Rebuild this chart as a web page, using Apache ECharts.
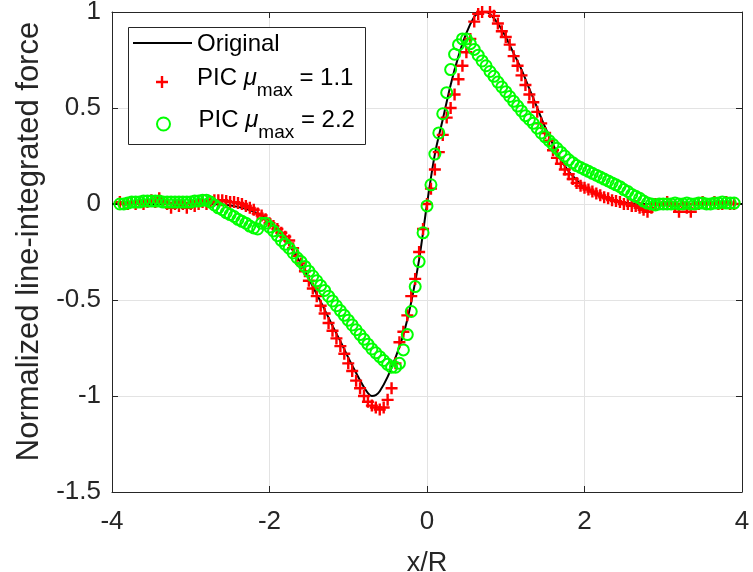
<!DOCTYPE html>
<html><head><meta charset="utf-8">
<script src="https://cdn.jsdelivr.net/npm/echarts@6/dist/echarts.min.js"></script>
<style>html,body{margin:0;padding:0;background:#fff}#c{width:753px;height:572px}</style>
</head><body><div id="c"></div>
<script>
// ---- data ----
const xTicks = [-4, -2, 0, 2, 4];
const yTicks = [-1.5, -1, -0.5, 0, 0.5, 1];

const xOrig = [-4,-3.5,-3,-2.8,-2.6,-2.4,-2.2,-2,-1.9,-1.8,-1.7,-1.6,-1.5,-1.4,-1.3,-1.2,-1.1,-1,
  -0.9,-0.8,-0.75,-0.7,-0.65,-0.6,-0.5,-0.4,-0.3,-0.2,-0.1,0,
  0.1,0.2,0.3,0.4,0.5,0.6,0.65,0.7,0.75,0.8,0.9,1,1.1,1.2,1.3,1.4,1.5,1.6,1.7,1.8,1.9,
  2,2.2,2.4,2.6,2.8,3,3.5,4];
const yOrig = [0,0,0,0,-0.003,-0.015,-0.04,-0.085,-0.13,-0.18,-0.245,-0.31,-0.39,-0.47,-0.55,-0.635,-0.715,-0.80,
  -0.88,-0.955,-0.985,-1.0,-0.995,-0.975,-0.90,-0.80,-0.68,-0.51,-0.29,0.0,
  0.26,0.44,0.62,0.77,0.89,0.975,0.993,1.0,1.0,0.99,0.94,0.87,0.785,0.70,0.60,0.50,0.40,0.31,0.23,0.17,0.125,
  0.085,0.04,0.015,0.003,0,0,0,0];

const xPIC = [-3.9,-3.85,-3.8,-3.75,-3.7,-3.65,-3.6,-3.55,-3.5,-3.45,
  -3.4,-3.35,-3.3,-3.25,-3.2,-3.15,-3.1,-3.05,-3,-2.95,
  -2.9,-2.85,-2.8,-2.75,-2.7,-2.65,-2.6,-2.55,-2.5,-2.45,
  -2.4,-2.35,-2.3,-2.25,-2.2,-2.15,-2.1,-2.05,-2,-1.95,
  -1.9,-1.85,-1.8,-1.75,-1.7,-1.65,-1.6,-1.55,-1.5,-1.45,
  -1.4,-1.35,-1.3,-1.25,-1.2,-1.15,-1.1,-1.05,-1,-0.95,
  -0.9,-0.85,-0.8,-0.75,-0.7,-0.65,-0.6,-0.55,-0.5,-0.45,
  -0.4,-0.35,-0.3,-0.25,-0.2,-0.15,-0.1,-0.05,0,0.05,
  0.1,0.15,0.2,0.25,0.3,0.35,0.4,0.45,0.5,0.55,
  0.6,0.65,0.7,0.75,0.8,0.85,0.9,0.95,1,1.05,
  1.1,1.15,1.2,1.25,1.3,1.35,1.4,1.45,1.5,1.55,
  1.6,1.65,1.7,1.75,1.8,1.85,1.9,1.95,2,2.05,
  2.1,2.15,2.2,2.25,2.3,2.35,2.4,2.45,2.5,2.55,
  2.6,2.65,2.7,2.75,2.8,2.85,2.9,2.95,3,3.05,
  3.1,3.15,3.2,3.25,3.3,3.35,3.4,3.45,3.5,3.55,
  3.6,3.65,3.7,3.75,3.8,3.85,3.9];

const yPIC11 = [0.01,0.00,0.00,0.01,0.00,0.01,0.00,0.01,0.02,0.01,
  0.03,0.01,0.00,-0.02,0.00,-0.01,0.00,-0.02,0.00,-0.01,
  0.00,0.01,0.00,0.01,0.02,0.02,0.02,0.015,0.01,0.01,
  0.005,0.00,-0.01,-0.02,-0.03,-0.05,-0.06,-0.08,-0.10,-0.115,
  -0.13,-0.15,-0.17,-0.19,-0.23,-0.27,-0.31,-0.35,-0.40,-0.44,
  -0.48,-0.53,-0.57,-0.62,-0.66,-0.70,-0.74,-0.78,-0.83,-0.87,
  -0.92,-0.96,-1.00,-1.03,-1.05,-1.06,-1.07,-1.06,-1.02,-0.96,
  -0.83,-0.72,-0.665,-0.58,-0.48,-0.39,-0.25,-0.13,0.00,0.08,
  0.18,0.27,0.36,0.45,0.50,0.57,0.65,0.72,0.79,0.86,
  0.95,0.99,1.00,1.01,1.00,0.98,0.94,0.90,0.87,0.83,
  0.77,0.72,0.67,0.62,0.57,0.53,0.48,0.42,0.37,0.33,
  0.28,0.24,0.21,0.18,0.155,0.13,0.11,0.095,0.085,0.075,
  0.065,0.055,0.045,0.035,0.03,0.02,0.015,0.01,0.00,0.00,
  -0.01,-0.01,-0.02,-0.03,-0.04,-0.02,0.00,0.00,0.00,0.01,
  0.00,-0.01,-0.04,0.00,-0.02,-0.04,0.00,0.00,0.01,0.00,
  0.00,0.01,0.00,0.00,0.01,0.00,0.00];

const yPIC22 = [0.00,0.00,0.005,0.01,0.01,0.01,0.015,0.015,0.015,0.015,
  0.015,0.01,0.01,0.01,0.01,0.01,0.01,0.01,0.01,0.015,
  0.015,0.02,0.02,0.01,-0.005,-0.02,-0.03,-0.045,-0.055,-0.065,
  -0.08,-0.09,-0.10,-0.115,-0.125,-0.13,-0.10,-0.10,-0.12,-0.14,
  -0.165,-0.19,-0.21,-0.23,-0.255,-0.28,-0.30,-0.325,-0.35,-0.375,
  -0.40,-0.425,-0.45,-0.48,-0.505,-0.53,-0.555,-0.58,-0.605,-0.63,
  -0.655,-0.68,-0.705,-0.73,-0.755,-0.775,-0.795,-0.815,-0.835,-0.85,
  -0.85,-0.83,-0.76,-0.68,-0.56,-0.43,-0.30,-0.15,-0.01,0.10,
  0.26,0.37,0.47,0.58,0.70,0.78,0.83,0.86,0.86,0.835,
  0.805,0.775,0.745,0.72,0.69,0.665,0.635,0.61,0.585,0.56,
  0.535,0.51,0.485,0.46,0.44,0.42,0.395,0.37,0.35,0.33,
  0.31,0.29,0.27,0.25,0.23,0.215,0.20,0.19,0.18,0.17,
  0.16,0.15,0.14,0.13,0.12,0.11,0.10,0.09,0.075,0.065,
  0.05,0.04,0.03,0.015,0.005,0.00,-0.005,0.00,0.00,0.00,
  0.00,0.005,0.00,0.00,0.005,0.00,0.00,0.005,0.005,0.00,
  0.00,0.005,0.005,0.01,0.005,0.005,0.005];

const seriesNames = ['Original', 'PIC11', 'PIC22'];
const legendLabels = {
  'Original': '{o|Original}',
  'PIC11': '{p|PIC }{mu|\u03bc}{s|max}{p| = 1.1}',
  'PIC22': '{p|PIC }{mu|\u03bc}{s|max}{p| = 2.2}'
};
const xTitle = 'x/R';
const yTitle = 'Normalized line-integrated force';

// ---- chart ----
const FONT = "'Liberation Sans', Arial, Helvetica, sans-serif";
const TXT = '#262626';
const chart = echarts.init(document.getElementById('c'), null, {renderer: 'canvas'});

const pair = (xs, ys) => xs.map((x, i) => [x, ys[i]]);
const rich = {
  o: {fontFamily: FONT, fontSize: 24, color: '#000', padding: [2, 0, 0, 0]},
  p: {fontFamily: FONT, fontSize: 24, color: '#000', padding: [0, 0, 8, 0]},
  mu: {fontFamily: FONT, fontSize: 24, color: '#000', fontStyle: 'italic', padding: [0, 0, 8, 0]},
  s: {fontFamily: FONT, fontSize: 19, color: '#000', padding: [18, 0, 0, 0]}
};
const legendBase = {
  orient: 'vertical', padding: 0, itemGap: 0,
  selectedMode: false,
  formatter: n => legendLabels[n],
  textStyle: {rich: rich}
};
const plusPath = 'path://M4,0H6V4H10V6H6V10H4V6H0V4H4Z';

const axisCommon = {
  type: 'value',
  axisLine: {show: true, onZero: false, lineStyle: {color: TXT, width: 1}},
  axisTick: {show: true, inside: true, length: 6, lineStyle: {color: TXT}},
};

chart.setOption({
  animation: false,
  backgroundColor: '#fff',
  grid: {left: 112, top: 12, right: 11, bottom: 80, containLabel: false, outerBoundsMode: 'none'},
  xAxis: [
    Object.assign({}, axisCommon, {
      position: 'bottom', min: xTicks[0], max: xTicks[xTicks.length - 1], interval: 2,
      axisLabel: {show: true, margin: 17, color: TXT, fontFamily: FONT, fontSize: 26},
      splitLine: {show: true, lineStyle: {color: '#e3e3e3', width: 1}},
      name: xTitle, nameLocation: 'middle', nameGap: 58,
      nameTextStyle: {color: TXT, fontFamily: FONT, fontSize: 27}
    }),
    Object.assign({}, axisCommon, {
      position: 'top', min: xTicks[0], max: xTicks[xTicks.length - 1], interval: 2,
      axisLabel: {show: false}, splitLine: {show: false}
    })
  ],
  yAxis: [
    Object.assign({}, axisCommon, {
      position: 'left', min: yTicks[0], max: yTicks[yTicks.length - 1], interval: 0.5,
      axisLabel: {show: true, margin: 11, color: TXT, fontFamily: FONT, fontSize: 26},
      splitLine: {show: true, lineStyle: {color: '#e3e3e3', width: 1}},
      name: yTitle, nameLocation: 'middle', nameGap: 64,
      nameTextStyle: {color: TXT, fontFamily: FONT, fontSize: 31, padding: [0, 0, 0, 21]}
    }),
    Object.assign({}, axisCommon, {
      position: 'right', min: yTicks[0], max: yTicks[yTicks.length - 1], interval: 0.5,
      axisLabel: {show: false}, splitLine: {show: false}
    })
  ],
  legend: [
    Object.assign({}, legendBase, {data: [{name: seriesNames[0], icon: 'rect'}], left: 133, top: 32,
      itemWidth: 59, itemHeight: 2, symbolKeepAspect: false}),
    Object.assign({}, legendBase, {data: [seriesNames[1]], left: 156, top: 66, itemWidth: 60, itemHeight: 12,
      symbolKeepAspect: true}),
    Object.assign({}, legendBase, {data: [seriesNames[2]], left: 156, top: 108, itemWidth: 60, itemHeight: 13,
      symbolKeepAspect: true})
  ],
  graphic: [{
    type: 'rect', z: 3,
    shape: {x: 128.5, y: 27.5, width: 237, height: 117},
    style: {fill: '#fff', stroke: TXT, lineWidth: 1}
  }],
  series: [
    {
      name: seriesNames[0], type: 'line', data: pair(xOrig, yOrig),
      smooth: 0.3, symbol: 'none', showSymbol: false,
      lineStyle: {color: '#000', width: 2}, itemStyle: {color: '#000'},
      emphasis: {disabled: true}, z: 2
    },
    {
      name: seriesNames[1], type: 'scatter', data: pair(xPIC, yPIC11),
      symbol: plusPath, symbolSize: 12,
      itemStyle: {color: '#ff0000', opacity: 1},
      emphasis: {disabled: true}, z: 2
    },
    {
      name: seriesNames[2], type: 'scatter', data: pair(xPIC, yPIC22),
      symbol: 'circle', symbolSize: 11,
      itemStyle: {color: 'rgba(0,0,0,0)', borderColor: '#00ff00', borderWidth: 2, opacity: 1},
      emphasis: {disabled: true}, z: 2
    }
  ]
});
</script>
</body></html>
